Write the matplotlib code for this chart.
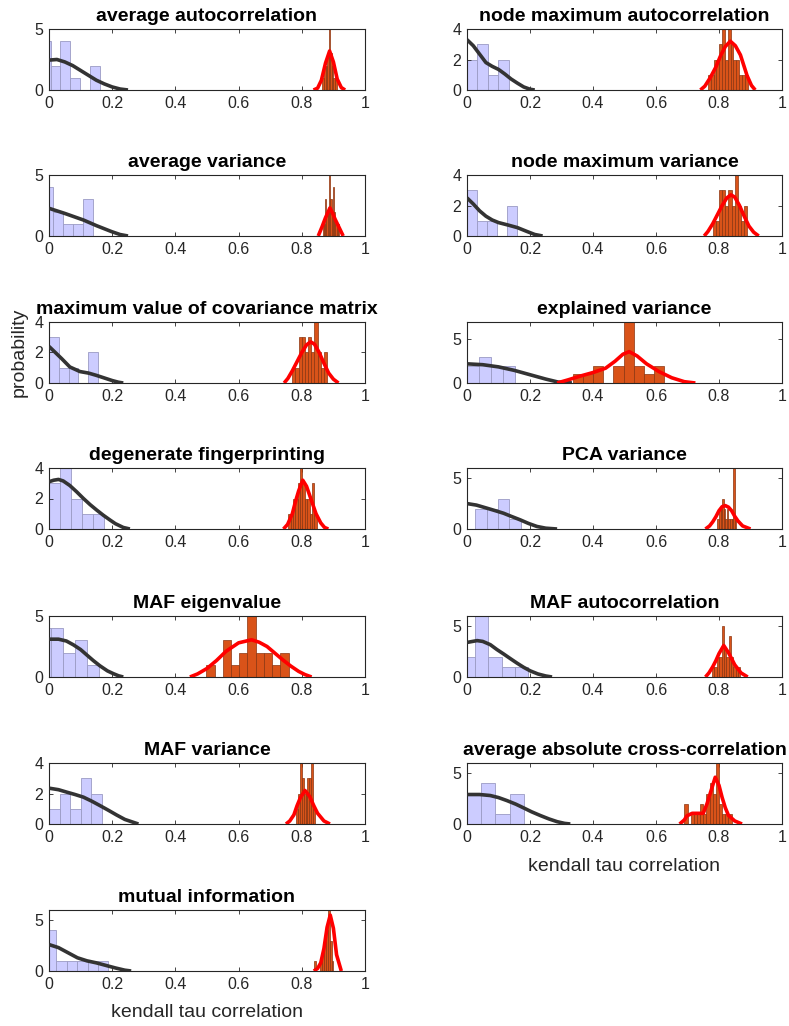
import numpy as np
import matplotlib
matplotlib.use("Agg")
import matplotlib.pyplot as plt

plt.rcParams['font.family'] = ['Liberation Sans', 'DejaVu Sans']

# ---------------------------------------------------------------- data
TITLES = [
    "average autocorrelation", "node maximum autocorrelation",
    "average variance", "node maximum variance",
    "maximum value of covariance matrix", "explained variance",
    "degenerate fingerprinting", "PCA variance",
    "MAF eigenvalue", "MAF autocorrelation",
    "MAF variance", "average absolute cross-correlation",
    "mutual information",
]
Y_MAX = [5, 4, 5, 4, 4, 7, 4, 6, 5, 6, 4, 6, 6]
Y_TICKS = [[0, 5], [0, 2, 4], [0, 5], [0, 2, 4], [0, 2, 4], [0, 5], [0, 2, 4],
           [0, 5], [0, 5], [0, 5], [0, 2, 4], [0, 5], [0, 5]]
X_TICKS = [0, 0.2, 0.4, 0.6, 0.8, 1]
X_TICK_LABELS = ["0", "0.2", "0.4", "0.6", "0.8", "1"]

# null distribution histograms (light blue)
NULL_BIN_START = [-0.026, 0.0, -0.017, 0.0, 0.0, 0.0, 0.0, 0.026, -0.031, -0.016, 0.0, 0.0, -0.01]
NULL_BIN_WIDTH = [0.031, 0.033, 0.031, 0.032, 0.031, 0.038, 0.035, 0.036, 0.038, 0.042, 0.0334, 0.045, 0.033]
NULL_COUNTS = [
    [4, 2, 4, 1, 0, 2],
    [2, 3, 1, 2],
    [4, 2, 1, 1, 3],
    [3, 1, 1, 0, 2],
    [3, 1, 1, 0, 2],
    [2, 3, 2, 2],
    [3, 4, 2, 1, 1],
    [2, 2, 3, 1],
    [4, 4, 2, 3, 1],
    [2, 6, 2, 1, 1],
    [1, 2, 1, 3, 2],
    [3, 4, 1, 3],
    [4, 1, 1, 1, 1, 1],
]
# null distribution density curves (dark grey)
NULL_CURVE_X = [
    [0, 0.025, 0.05, 0.075, 0.1, 0.125, 0.15, 0.175, 0.2, 0.225, 0.25],
    [0, 0.02, 0.04, 0.06, 0.08, 0.1, 0.12, 0.14, 0.16, 0.18, 0.2, 0.215],
    [0, 0.05, 0.109, 0.15, 0.198, 0.225, 0.25],
    [0, 0.02, 0.04, 0.06, 0.08, 0.1, 0.13, 0.16, 0.19, 0.215, 0.24],
    [0, 0.02, 0.04, 0.066, 0.098, 0.125, 0.15, 0.175, 0.2, 0.22, 0.235],
    [0, 0.05, 0.1, 0.15, 0.2, 0.25, 0.29, 0.333],
    [0, 0.015, 0.03, 0.045, 0.066, 0.087, 0.109, 0.13, 0.151, 0.172, 0.193, 0.21, 0.235, 0.256],
    [0, 0.03, 0.063, 0.09, 0.116, 0.14, 0.169, 0.195, 0.222, 0.25, 0.286],
    [0, 0.03, 0.055, 0.077, 0.1, 0.119, 0.14, 0.161, 0.185, 0.204, 0.22, 0.235],
    [0, 0.032, 0.05, 0.074, 0.095, 0.116, 0.138, 0.159, 0.18, 0.201, 0.225, 0.25, 0.27],
    [0, 0.03, 0.056, 0.083, 0.109, 0.135, 0.161, 0.188, 0.214, 0.24, 0.267, 0.283],
    [0, 0.04, 0.074, 0.1, 0.127, 0.155, 0.18, 0.205, 0.233, 0.26, 0.286, 0.31, 0.328],
    [0, 0.03, 0.06, 0.09, 0.12, 0.15, 0.18, 0.21, 0.24, 0.26],
]
NULL_CURVE_Y = [
    [2.45, 2.5, 2.3, 2.0, 1.6, 1.2, 0.8, 0.5, 0.25, 0.08, 0.0],
    [3.3, 2.9, 2.35, 1.8, 1.55, 1.35, 1.05, 0.72, 0.45, 0.2, 0.05, 0.0],
    [2.27, 1.85, 1.31, 0.85, 0.36, 0.12, 0.0],
    [2.5, 2.1, 1.65, 1.3, 1.05, 0.88, 0.72, 0.55, 0.3, 0.1, 0.0],
    [2.4, 2.0, 1.6, 1.05, 0.75, 0.65, 0.5, 0.33, 0.16, 0.05, 0.0],
    [2.2, 2.1, 1.85, 1.45, 0.95, 0.45, 0.1, 0.0],
    [3.1, 3.2, 3.25, 3.15, 2.85, 2.45, 2.0, 1.6, 1.24, 0.9, 0.59, 0.35, 0.1, 0.0],
    [2.5, 2.35, 2.05, 1.8, 1.55, 1.25, 0.9, 0.55, 0.25, 0.08, 0.0],
    [3.1, 3.1, 2.95, 2.64, 2.25, 1.82, 1.35, 0.92, 0.5, 0.27, 0.1, 0.0],
    [3.4, 3.58, 3.5, 3.18, 2.7, 2.27, 1.8, 1.36, 0.95, 0.6, 0.3, 0.1, 0.0],
    [2.35, 2.25, 2.09, 1.93, 1.76, 1.5, 1.21, 0.9, 0.59, 0.3, 0.11, 0.0],
    [2.9, 2.9, 2.8, 2.6, 2.3, 1.95, 1.58, 1.2, 0.83, 0.5, 0.23, 0.06, 0.0],
    [2.6, 2.3, 1.8, 1.3, 1.0, 0.8, 0.55, 0.3, 0.08, 0.0],
]

# observed distribution histograms (orange)
OBS_BIN_START = [0.865, 0.765, 0.866, 0.78, 0.77, 0.305, 0.757, 0.795, 0.498, 0.778, 0.782, 0.69, 0.84]
OBS_BIN_WIDTH = [0.005, 0.009, 0.004, 0.01, 0.01, 0.032, 0.0075, 0.005, 0.026, 0.0075, 0.006, 0.01, 0.006]
OBS_COUNTS = [
    [1, 2, 2, 3, 7, 3, 2, 1, 1],
    [1, 1, 2, 2, 3, 5, 2, 5, 3, 2, 2, 1, 1, 1],
    [1, 1, 3, 2, 2, 6, 3, 2, 4, 2, 1, 1, 1],
    [1, 1, 3, 3, 2, 3, 2, 5, 2, 1, 2],
    [1, 1, 3, 3, 2, 3, 2, 5, 2, 1, 2],
    [0, 1, 1, 2, 0, 2, 7, 2, 1, 2],
    [1, 1, 2, 2, 3, 5, 3, 2, 2, 1, 3, 1],
    [1, 2, 2, 3, 2, 1, 2, 1, 1, 1, 7, 1],
    [1, 0, 3, 1, 2, 5, 2, 2, 1, 2],
    [1, 1, 2, 2, 5, 3, 2, 4, 2, 1, 1, 1],
    [1, 2, 5, 3, 2, 2, 3, 3, 5, 1],
    [2, 0, 1, 1, 1, 2, 1, 3, 4, 3, 7, 2, 1, 1, 1],
    [1, 0, 0, 1, 2, 3, 4, 7, 3, 1],
]
# observed distribution density curves (red)
OBS_CURVE_X = [
    [0.837, 0.85, 0.862, 0.875, 0.888, 0.9, 0.912, 0.925, 0.937],
    [0.741, 0.755, 0.772, 0.79, 0.804, 0.82, 0.836, 0.852, 0.868, 0.889, 0.903, 0.915],
    [0.852, 0.864, 0.875, 0.889, 0.897, 0.905, 0.918, 0.931],
    [0.753, 0.765, 0.78, 0.795, 0.81, 0.825, 0.838, 0.85, 0.865, 0.88, 0.895, 0.91, 0.926],
    [0.744, 0.756, 0.77, 0.785, 0.8, 0.815, 0.828, 0.84, 0.855, 0.87, 0.885, 0.9, 0.916],
    [0.286, 0.32, 0.36, 0.4, 0.44, 0.47, 0.495, 0.515, 0.54, 0.57, 0.61, 0.65, 0.69, 0.725],
    [0.742, 0.755, 0.77, 0.78, 0.79, 0.803, 0.815, 0.83, 0.845, 0.86, 0.872, 0.884],
    [0.757, 0.77, 0.78, 0.79, 0.8, 0.81, 0.82, 0.83, 0.84, 0.85, 0.86, 0.875, 0.9],
    [0.446, 0.47, 0.5, 0.53, 0.56, 0.6, 0.641, 0.665, 0.69, 0.715, 0.74, 0.765, 0.79, 0.81, 0.831],
    [0.757, 0.768, 0.78, 0.79, 0.8, 0.815, 0.83, 0.85, 0.87, 0.891],
    [0.75, 0.762, 0.775, 0.785, 0.795, 0.81, 0.825, 0.838, 0.85, 0.87, 0.889],
    [0.675, 0.69, 0.698, 0.715, 0.75, 0.762, 0.772, 0.788, 0.8, 0.81, 0.82, 0.83, 0.85, 0.873],
    [0.838, 0.85, 0.86, 0.87, 0.88, 0.89, 0.9, 0.91, 0.925],
]
OBS_CURVE_Y = [
    [0.0, 0.15, 0.8, 2.2, 3.2, 2.3, 0.9, 0.2, 0.0],
    [0.0, 0.25, 0.8, 1.5, 2.2, 2.85, 3.2, 2.9, 2.3, 0.95, 0.3, 0.0],
    [0.0, 0.75, 1.5, 2.3, 1.9, 1.4, 0.7, 0.0],
    [0.0, 0.3, 0.8, 1.4, 2.0, 2.5, 2.7, 2.55, 2.0, 1.3, 0.65, 0.25, 0.0],
    [0.0, 0.3, 0.8, 1.4, 2.0, 2.5, 2.7, 2.55, 2.0, 1.3, 0.65, 0.25, 0.0],
    [0.0, 0.35, 0.8, 1.2, 1.7, 2.5, 3.3, 3.6, 3.1, 2.2, 1.3, 0.6, 0.15, 0.0],
    [0.0, 0.3, 1.0, 1.8, 2.5, 3.2, 2.8, 1.9, 1.0, 0.4, 0.1, 0.0],
    [0.0, 0.3, 0.7, 1.2, 1.8, 2.2, 2.3, 2.15, 1.8, 1.25, 0.8, 0.3, 0.0],
    [0.0, 0.25, 0.7, 1.35, 2.1, 2.8, 3.05, 2.85, 2.5, 1.95, 1.4, 0.9, 0.46, 0.2, 0.0],
    [0.0, 0.4, 1.0, 1.6, 2.3, 3.1, 2.4, 1.2, 0.4, 0.0],
    [0.0, 0.2, 0.6, 1.2, 1.7, 2.2, 1.8, 1.2, 0.7, 0.2, 0.0],
    [0.0, 0.4, 0.8, 1.05, 1.05, 2.0, 3.0, 4.6, 3.8, 2.6, 1.6, 0.85, 0.3, 0.0],
    [0.0, 0.25, 0.8, 2.2, 4.3, 5.5, 4.2, 1.6, 0.0],
]

X_LABEL = "kendall tau correlation"
Y_LABEL = "probability"

# ---------------------------------------------------------------- layout (pixels)
W, H = 789, 1026
COL_LEFT = [49, 467]
COL_WIDTH = [316, 315]
ROW_TOP = [29, 175, 322, 468, 616, 763, 910]
AX_HEIGHT = 61

AX_COLOR = "#262626"
NULL_FACE = "#CCCCFF"
NULL_EDGE = "#9A9AC4"
OBS_FACE = "#D95319"
OBS_EDGE = "#8A3510"
NULL_LINE = "#333333"
OBS_LINE = "#FF0000"

fig = plt.figure(figsize=(W / 100, H / 100), dpi=100)
fig.patch.set_facecolor("white")

axes = []
for i, title in enumerate(TITLES):
    row, col = divmod(i, 2)
    left = COL_LEFT[col] / W
    bottom = 1 - (ROW_TOP[row] + AX_HEIGHT) / H
    ax = fig.add_axes([left, bottom, COL_WIDTH[col] / W, AX_HEIGHT / H])
    axes.append(ax)

    # null histogram
    nc = np.asarray(NULL_COUNTS[i], dtype=float)
    nx = NULL_BIN_START[i] + NULL_BIN_WIDTH[i] * np.arange(len(nc))
    ax.bar(nx, nc, width=NULL_BIN_WIDTH[i], align="edge", color=NULL_FACE,
           edgecolor=NULL_EDGE, linewidth=0.6, zorder=1)
    # observed histogram
    oc = np.asarray(OBS_COUNTS[i], dtype=float)
    ox = OBS_BIN_START[i] + OBS_BIN_WIDTH[i] * np.arange(len(oc))
    ax.bar(ox, oc, width=OBS_BIN_WIDTH[i], align="edge", color=OBS_FACE,
           edgecolor=OBS_EDGE, linewidth=0.5, zorder=2)

    # density curves
    ax.plot(NULL_CURVE_X[i], NULL_CURVE_Y[i], color=NULL_LINE, linewidth=2.6,
            solid_capstyle="butt", zorder=3)
    ax.plot(OBS_CURVE_X[i], OBS_CURVE_Y[i], color=OBS_LINE, linewidth=2.6,
            solid_capstyle="butt", zorder=4)

    ax.set_xlim(0, 1)
    ax.set_ylim(0, Y_MAX[i])
    ax.set_xticks(X_TICKS)
    ax.set_xticklabels(X_TICK_LABELS)
    ax.set_yticks(Y_TICKS[i])
    ax.tick_params(direction="in", top=True, right=True, length=3, width=0.6,
                   labelsize=11.5, colors=AX_COLOR, pad=4)
    for sp in ax.spines.values():
        sp.set_color(AX_COLOR)
        sp.set_linewidth(0.8)
    ax.set_title(title, fontsize=14, fontweight="bold", color="black", pad=6)

axes[4].set_ylabel(Y_LABEL, fontsize=14, color=AX_COLOR)
axes[4].yaxis.set_label_coords(-0.066, 0.5)
axes[11].set_xlabel(X_LABEL, fontsize=14, color=AX_COLOR, labelpad=10)
axes[12].set_xlabel(X_LABEL, fontsize=14, color=AX_COLOR, labelpad=9)

fig.savefig("out.png", dpi=100)
